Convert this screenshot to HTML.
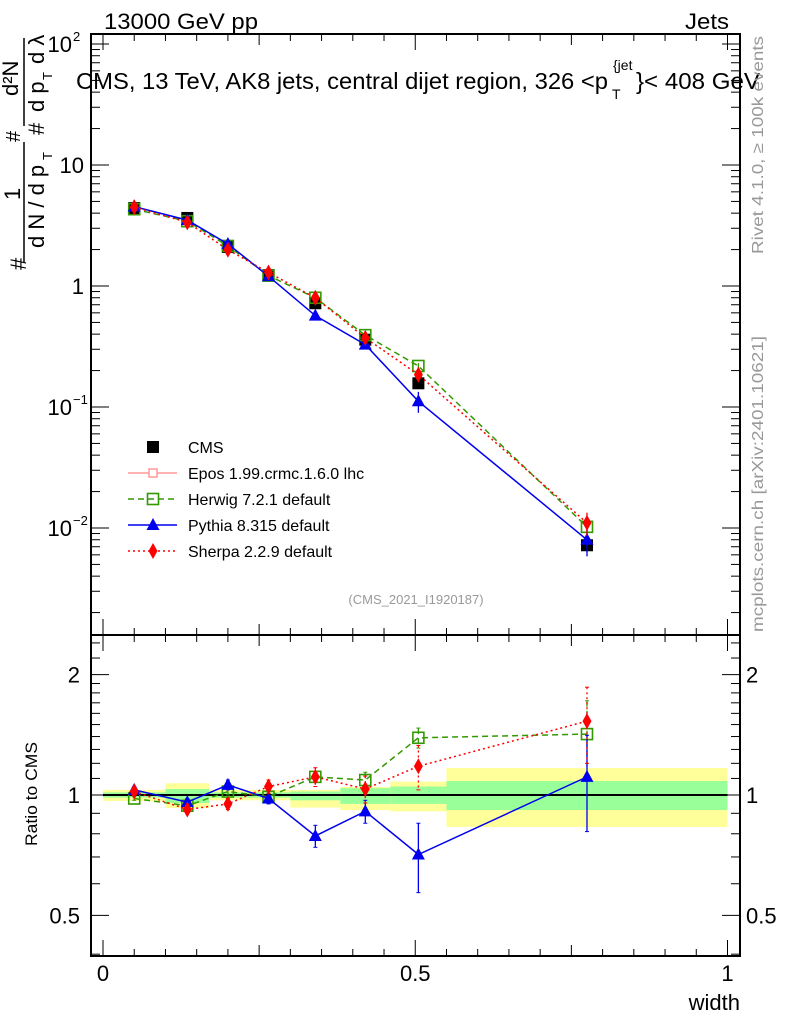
<!DOCTYPE html>
<html><head><meta charset="utf-8">
<style>
html,body{margin:0;padding:0;background:#fff;}
svg{display:block;font-family:"Liberation Sans",sans-serif;}
</style></head>
<body>
<svg id="chart" width="786" height="1024" viewBox="0 0 786 1024" xmlns="http://www.w3.org/2000/svg">
  <text x="104" y="29" font-size="22" textLength="154" lengthAdjust="spacingAndGlyphs">13000 GeV pp</text>
  <text x="685" y="29" font-size="22" textLength="44" lengthAdjust="spacingAndGlyphs">Jets</text>
  <g id="main"></g>
  <g id="ratio"></g>
  <text x="76" y="89" font-size="23" textLength="532" lengthAdjust="spacingAndGlyphs">CMS, 13 TeV, AK8 jets, central dijet region, 326 &lt;p</text>
  <text x="613" y="70" font-size="14">{jet</text>
  <text x="612" y="99" font-size="14">T</text>
  <text x="636" y="89" font-size="23" textLength="124" lengthAdjust="spacingAndGlyphs">}&lt; 408 GeV</text>
  <text x="416" y="604" font-size="13" fill="#999" text-anchor="middle">(CMS_2021_I1920187)</text>
  <text transform="translate(763,254) rotate(-90)" font-size="16" fill="#999" textLength="218" lengthAdjust="spacingAndGlyphs">Rivet 4.1.0, ≥ 100k events</text>
  <text transform="translate(763,632) rotate(-90)" font-size="16" fill="#999" textLength="296" lengthAdjust="spacingAndGlyphs">mcplots.cern.ch [arXiv:2401.10621]</text>
  <g font-size="22">
    <text transform="translate(26,270) rotate(-90)">#</text>
    <text transform="translate(20,200) rotate(-90)">1</text>
    <line x1="24" y1="262" x2="24" y2="142" stroke="#000" stroke-width="1.5"/>
    <text transform="translate(44,248) rotate(-90)">d N / d p</text>
    <text transform="translate(52,160) rotate(-90)" font-size="13">T</text>
    <text transform="translate(20,142) rotate(-90)" font-size="20">#</text>
    <line x1="24" y1="126" x2="24" y2="38" stroke="#000" stroke-width="1.5"/>
    <text transform="translate(44,135) rotate(-90)">#</text>
    <text transform="translate(18,96) rotate(-90)">d²N</text>
    <text transform="translate(44,112) rotate(-90)">d p</text>
    <text transform="translate(52,80) rotate(-90)" font-size="13">T</text>
    <text transform="translate(44,64) rotate(-90)">d λ</text>
  </g>
  <text transform="translate(37,846) rotate(-90)" font-size="17" textLength="104" lengthAdjust="spacingAndGlyphs">Ratio to CMS</text>
  <text x="740" y="1010" font-size="22" text-anchor="end">width</text>
</svg>
<script>
const NS="http://www.w3.org/2000/svg";
const xCenters=[0.05,0.135,0.2,0.265,0.34,0.42,0.505,0.775];
const binEdges=[0,0.1,0.17,0.23,0.3,0.38,0.46,0.55,1.0];
const cmsValues=[4.4,3.65,2.1,1.23,0.72,0.36,0.157,0.0072];
const herwigRatio=[0.98,0.94,1.02,0.99,1.11,1.09,1.39,1.42];
const pythiaRatio=[1.03,0.96,1.06,0.98,0.79,0.91,0.71,1.11];
const sherpaRatio=[1.02,0.92,0.95,1.05,1.11,1.035,1.18,1.53];
const pythiaErr=[0.02,0.02,0.03,0.03,0.05,0.06,0.14,0.3];
const herwigErr=[0.01,0.01,0.02,0.02,0.03,0.05,0.08,0.3];
const sherpaErr=[0.02,0.02,0.03,0.04,0.06,0.08,0.15,0.33];
const yellowUp=[1.03,1.07,1.03,1.03,1.03,1.047,1.08,1.168];
const yellowDn=[0.966,0.928,0.97,0.97,0.93,0.917,0.91,0.832];
const greenUp=[1.015,1.035,1.015,1.015,1.02,1.04,1.05,1.084];
const greenDn=[0.985,0.955,0.985,0.985,0.97,0.95,0.95,0.917];
const yTickLabels=["10","10","1","10","10"];
const yTickExps=["2","","","−1","−2"];
const ratioTickLabels=["0.5","1","2"];
const ratioTicks=[0.5,1,2];
const xTickLabels=["0","0.5","1"];
const xTicks=[0,0.5,1];

const L=91,R=740,T=34,MB=635,RB=956;
function X(w){return 103+624.5*w;}
function Y(v){return 286-121*Math.log10(v);}
function RY(r){return 795-400*Math.log10(r);}
function mk(tag,attrs,parent){const e=document.createElementNS(NS,tag);for(const k in attrs)e.setAttribute(k,attrs[k]);parent.appendChild(e);return e;}
const main=document.getElementById('main'),ratio=document.getElementById('ratio');

for(let i=0;i<binEdges.length-1;i++){
  const x0=X(binEdges[i]),x1=X(binEdges[i+1]);
  const y=mk('rect',{x:x0,y:RY(yellowUp[i]),width:x1-x0,height:RY(yellowDn[i])-RY(yellowUp[i]),fill:'#ffff99'},ratio);
  
  
  const g=mk('rect',{x:x0,y:RY(greenUp[i]),width:x1-x0,height:RY(greenDn[i])-RY(greenUp[i]),fill:'#99ff99'},ratio);
  
  
}
mk('line',{x1:X(0),x2:X(1),y1:RY(1),y2:RY(1),stroke:'#000','stroke-width':2},ratio);

mk('rect',{x:L,y:T,width:R-L,height:MB-T,fill:'none',stroke:'#000','stroke-width':2},main);
mk('rect',{x:L,y:MB,width:R-L,height:RB-MB,fill:'none',stroke:'#000','stroke-width':2},ratio);

for(let k=0;k<=20;k++){
  const w=k*0.05,x=X(w);
  const len=(k%10===0)?16:(k%5===0?11:7);
  mk('line',{x1:x,x2:x,y1:T,y2:T+len,stroke:'#000'},main);
  mk('line',{x1:x,x2:x,y1:MB,y2:MB-len,stroke:'#000'},main);
  mk('line',{x1:x,x2:x,y1:MB,y2:MB+len,stroke:'#000'},ratio);
  mk('line',{x1:x,x2:x,y1:RB,y2:RB-len,stroke:'#000'},ratio);
}
xTicks.forEach((w,i)=>{
  const t=mk('text',{x:X(w),y:981,'font-size':22,'text-anchor':'middle'},ratio);
  
  
  t.textContent=xTickLabels[i];
});

for(let d=-3;d<=2;d++){
  for(let m=1;m<=9;m++){
    const v=m*Math.pow(10,d),y=Y(v);
    if(y<T||y>MB)continue;
    const len=m===1?18:9;
    mk('line',{x1:L,x2:L+len,y1:y,y2:y,stroke:'#000'},main);
    mk('line',{x1:R,x2:R-len,y1:y,y2:y,stroke:'#000'},main);
  }
}
[2,1,0,-1,-2].forEach((d,i)=>{
  const y=Y(Math.pow(10,d));
  const t=mk('text',{x:yTickExps[i]?72:84,y:y+8,'font-size':22,'text-anchor':'end'},main);
  
  
  t.textContent=yTickLabels[i];
  if(yTickExps[i]){const s=mk('text',{x:73,y:y-3,'font-size':13},main);s.textContent=yTickExps[i];}
});

const rMinor=[0.4,0.6,0.7,0.8,0.9,1.1,1.2,1.3,1.4,1.5,1.6,1.7,1.8,1.9,2.2,2.4];
rMinor.forEach(r=>{const y=RY(r);if(y<MB||y>RB)return;
  mk('line',{x1:L,x2:L+9,y1:y,y2:y,stroke:'#000'},ratio);
  mk('line',{x1:R,x2:R-9,y1:y,y2:y,stroke:'#000'},ratio);});
ratioTicks.forEach((r,i)=>{const y=RY(r);
  mk('line',{x1:L,x2:L+18,y1:y,y2:y,stroke:'#000'},ratio);
  mk('line',{x1:R,x2:R-18,y1:y,y2:y,stroke:'#000'},ratio);
  const t=mk('text',{x:80,y:y+8,'font-size':22,'text-anchor':'end'},ratio);
  
  
  t.textContent=ratioTickLabels[i];
  const t2=mk('text',{x:746,y:y+8,'font-size':22},ratio);
  
  
  t2.textContent=ratioTickLabels[i];
});

function marker(type,x,y,color,parent){
  let e;
  if(type==='sq') e=mk('rect',{x:x-5.5,y:y-5.5,width:11,height:11,fill:'none',stroke:color,'stroke-width':1.6},parent);
  else if(type==='tri') e=mk('polygon',{points:`${x},${y-7} ${x-6.5},${y+5} ${x+6.5},${y+5}`,fill:color},parent);
  else if(type==='dia') e=mk('polygon',{points:`${x},${y-8} ${x-4.5},${y} ${x},${y+8} ${x+4.5},${y}`,fill:color},parent);
  else if(type==='box') e=mk('rect',{x:x-6,y:y-6,width:12,height:12,fill:color},parent);
  return e;
}
const series=[
  {name:'herwig',ratio:herwigRatio,err:herwigErr,color:'#339900',dash:'6,4',m:'sq'},
  {name:'pythia',ratio:pythiaRatio,err:pythiaErr,color:'#0000ee',dash:'',m:'tri'},
  {name:'sherpa',ratio:sherpaRatio,err:sherpaErr,color:'#ff0000',dash:'2,3',m:'dia'}
];

xCenters.forEach((w,i)=>{
  const e=marker('box',X(w),Y(cmsValues[i]),'#000',main);
  
  
});

series.forEach(s=>{
  const mp=xCenters.map((w,i)=>[X(w),Y(cmsValues[i]*s.ratio[i])]);
  const rp=xCenters.map((w,i)=>[X(w),RY(s.ratio[i])]);
  const a={fill:'none',stroke:s.color,'stroke-width':1.5};
  if(s.dash)a['stroke-dasharray']=s.dash;
  const pl=mk('polyline',Object.assign({points:mp.map(p=>p.join(',')).join(' ')},a),main);
  
  
  const pr=mk('polyline',Object.assign({points:rp.map(p=>p.join(',')).join(' ')},a),ratio);
  
  
  xCenters.forEach((w,i)=>{
    const x=X(w),r=s.ratio[i],e=s.err[i];
    const y1=RY(r+e),y2=RY(Math.max(r-e,0.3));
    const ea={x1:x,x2:x,y1:y1,y2:y2,stroke:s.color,'stroke-width':1.3};
    if(s.dash)ea['stroke-dasharray']=s.dash;
    mk('line',ea,ratio);
    mk('line',{x1:x-2,x2:x+2,y1:y1,y2:y1,stroke:s.color},ratio);
    mk('line',{x1:x-2,x2:x+2,y1:y2,y2:y2,stroke:s.color},ratio);
    const v=cmsValues[i]*r,f=e/r;
    const my1=Y(v*(1+f)),my2=Y(v*Math.max(1-f,0.05));
    mk('line',{x1:x,x2:x,y1:my1,y2:my2,stroke:s.color,'stroke-width':1.3},main);
    const m1=marker(s.m,mp[i][0],mp[i][1],s.color,main);
    
    
    const m2=marker(s.m,rp[i][0],rp[i][1],s.color,ratio);
    
    
  });
});

const legNames=['CMS','Epos 1.99.crmc.1.6.0 lhc','Herwig 7.2.1 default','Pythia 8.315 default','Sherpa 2.2.9 default'];
const legColors=['#000','#ff9999','#339900','#0000ee','#ff0000'];
const legDash=['','','6,4','','2,3'];
const legM=['box','cross','sq','tri','dia'];
legNames.forEach((n,i)=>{
  const y=447+26*i;
  const g=mk('g',{},main);
  
  
  if(i>0){const a={x1:128,x2:177,y1:y,y2:y,stroke:legColors[i],'stroke-width':1.5};if(legDash[i])a['stroke-dasharray']=legDash[i];mk('line',a,g);}
  if(legM[i]==='cross'){mk('rect',{x:149,y:y-4,width:8,height:8,fill:'#fff',stroke:legColors[i],'stroke-width':1.5},g);}
  else marker(legM[i],153,y,legColors[i],g);
  const t=mk('text',{x:188,y:y+6,'font-size':16},g);t.textContent=n;
});
</script>
</body></html>
